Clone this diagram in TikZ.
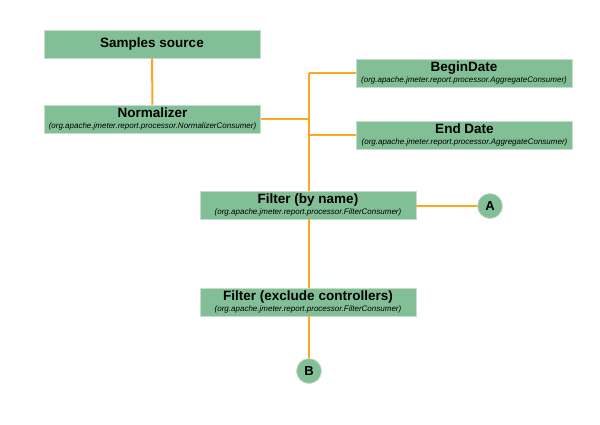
\documentclass[tikz,border=0pt]{standalone}
\usepackage{fontspec}
\setmainfont{Liberation Sans}
\definecolor{boxgreen}{HTML}{82BF96}
\definecolor{boxedge}{HTML}{C8DCCB}
\definecolor{wire}{HTML}{FFA51E}
\begin{document}
\begin{tikzpicture}[x=1pt,y=-1pt,
  box/.style={draw=boxedge,line width=0.8pt,fill=boxgreen,minimum width=216pt,minimum height=28pt,inner sep=0pt,align=center},
  circ/.style={circle,draw=boxedge,line width=0.8pt,fill=boxgreen,minimum size=25pt,inner sep=0pt,font=\bfseries\fontsize{13}{13}\selectfont},
  wireline/.style={draw=wire,line width=2pt},
]
\useasboundingbox[fill=white] (0,0) rectangle (600,424);
\newcommand{\bt}[2]{{\bfseries\fontsize{13.5}{14}\selectfont #1}\\[-1.5pt]{\itshape\fontsize{8}{8}\selectfont #2}}
\node[box,font=\bfseries\fontsize{13.5}{14}\selectfont] (src) at (152,44) {Samples source};
\node[box] (norm) at (152.5,119) {\bt{Normalizer}{(org.apache.jmeter.report.processor.NormalizerConsumer)}};
\node[box] (begin) at (464,73) {\bt{BeginDate}{(org.apache.jmeter.report.processor.AggregateConsumer)}};
\node[box] (end) at (464.5,135) {\bt{End Date}{(org.apache.jmeter.report.processor.AggregateConsumer)}};
\node[box] (fname) at (308,205) {\bt{Filter (by name)}{(org.apache.jmeter.report.processor.FilterConsumer)}};
\node[box] (fexcl) at (308,302) {\bt{Filter (exclude controllers)}{(org.apache.jmeter.report.processor.FilterConsumer)}};
\node[circ] (A) at (490,206) {A};
\node[circ] (B) at (309,371) {B};
\coordinate (top) at (309,73);
\coordinate (junc) at (309,119);
\coordinate (ej) at (309,135);
\draw[wireline] (src) -- (norm);
\draw[wireline,line width=2.6pt] (norm.east) -- (junc);
\draw[wireline] (top) -- (begin.west);
\draw[wireline] (ej) -- (end.west);
\draw[wireline] (top) -- (fname.north -| top);
\draw[wireline] (fname.south -| top) -- (fexcl.north -| top);
\draw[wireline] (fexcl.south -| top) -- (B);
\draw[wireline] (fname.east |- A) -- (A);
\end{tikzpicture}
\end{document}
